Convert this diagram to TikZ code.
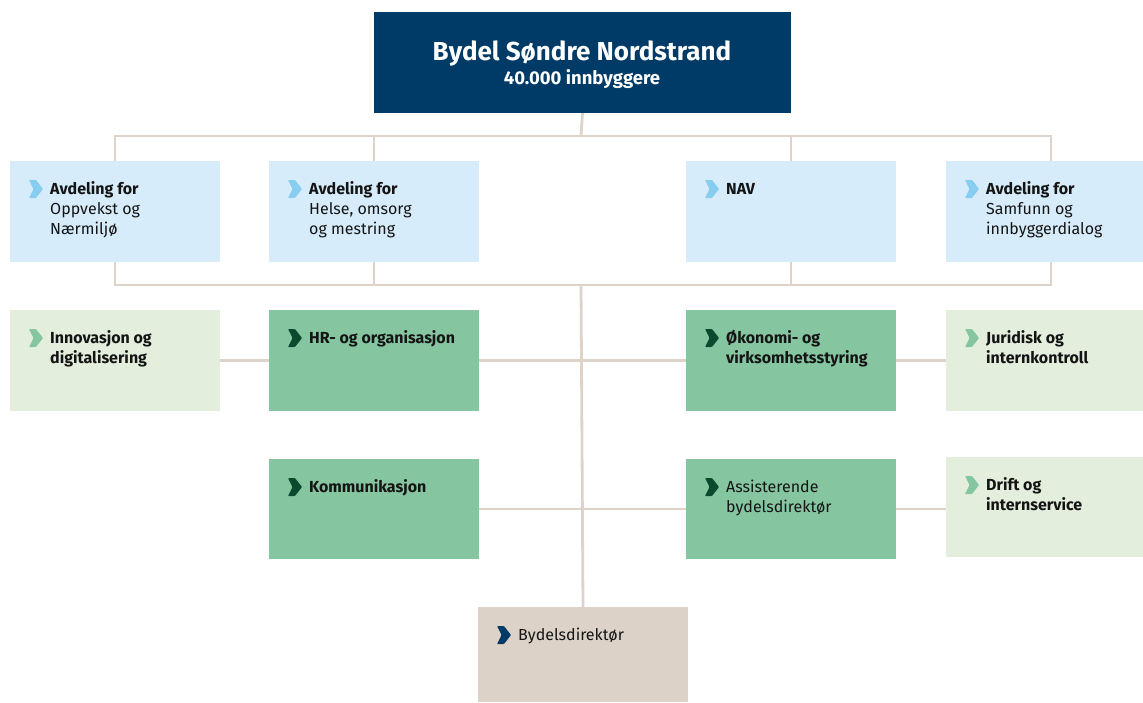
\documentclass[tikz,border=0pt]{standalone}
\usepackage{fontspec}
\setmainfont{Fira Sans}
\usetikzlibrary{backgrounds}
\definecolor{navy}{HTML}{003A66}
\definecolor{lblue}{HTML}{D6ECFA}
\definecolor{ablue}{HTML}{86CDF0}
\definecolor{lgreen}{HTML}{E4EEDD}
\definecolor{mgreen}{HTML}{85C6A1}
\definecolor{dgreen}{HTML}{0B4A2E}
\definecolor{beige}{HTML}{DCD2C7}
\definecolor{linec}{HTML}{DDD3C9}
\definecolor{txt}{HTML}{141414}
\begin{document}
\begin{tikzpicture}[x=1pt,y=-1pt,
  unit/.style={anchor=north west, inner sep=0pt, outer sep=0pt, minimum width=210pt, minimum height=101pt, draw=none},
  deptbox/.style={unit, fill=lblue},
  staffbox/.style={unit, fill=lgreen},
  mainbox/.style={unit, fill=mgreen},
  dirbox/.style={unit, fill=beige, minimum height=95pt},
  topbox/.style={unit, fill=navy, minimum width=417pt},
  lbl/.style={anchor=base west, inner sep=0pt, text=txt, font=\fontsize{16}{20}\selectfont},
  conn/.style={draw=linec, line width=2.8pt},
  chev/.pic={\fill[#1, rounded corners=0.8pt] (0,0) -- (7,0) -- (14,9) -- (7,18) -- (0,18) -- (4.5,9) -- cycle;}
]
\useasboundingbox (0,0) rectangle (1143,702);

% top
\node[topbox] (top) at (374,12) {};
\node[anchor=base, inner sep=0pt, text=white, font=\bfseries\fontsize{26}{30}\selectfont] (title) at (582,60) {Bydel Søndre Nordstrand};
\node[anchor=base, inner sep=0pt, text=white, font=\bfseries\fontsize{18.5}{22}\selectfont] (subtitle) at (582,84) {40.000 innbyggere};

% row 1
\node[deptbox] (b1) at (10,161) {};
\node[deptbox] (b2) at (269,161) {};
\node[deptbox] (b3) at (686,161) {};
\node[deptbox] (b4) at (946,161) {};
% row 2
\node[staffbox] (inn) at (10,310) {};
\node[mainbox] (hr) at (269,310) {};
\node[mainbox] (oko) at (686,310) {};
\node[staffbox] (jur) at (946,310) {};
% row 3
\node[mainbox, minimum height=100pt] (kom) at (269,459) {};
\node[mainbox, minimum height=100pt] (ass) at (686,459) {};
\node[staffbox, minimum height=100pt] (drift) at (946,457) {};
% director
\node[dirbox] (bd) at (478,607) {};

% connectors
\coordinate (bus1) at (581,136);
\coordinate (bus2) at (581,285);
\begin{scope}[on background layer]
\draw[conn] (top.south) -- (bus1);
\draw[conn] (b1.north) |- (bus1) -| (b4.north);
\draw[conn] (b2.north) -- (b2.north |- bus1);
\draw[conn] (b3.north) -- (b3.north |- bus1);
\draw[conn] (b1.south) |- (bus2) -| (b4.south);
\draw[conn] (b2.south) -- (b2.south |- bus2);
\draw[conn] (b3.south) -- (b3.south |- bus2);
\draw[conn] (bus2) -- (bd.north);
\draw[conn] (inn.east) -- (hr.west);
\draw[conn] (hr.east) -- (oko.west);
\draw[conn] (oko.east) -- (jur.west);
\draw[conn] (kom.east) -- (ass.west);
\draw[conn] (ass.east) -- (drift.west |- ass.east);
\end{scope}

% chevrons
\pic at ([shift={(19,19)}]b1.north west) {chev=ablue};
\pic at ([shift={(19,19)}]b2.north west) {chev=ablue};
\pic at ([shift={(19,19)}]b3.north west) {chev=ablue};
\pic at ([shift={(19,19)}]b4.north west) {chev=ablue};
\pic at ([shift={(19,19)}]inn.north west) {chev=mgreen};
\pic at ([shift={(19,19)}]hr.north west) {chev=dgreen};
\pic at ([shift={(19,19)}]oko.north west) {chev=dgreen};
\pic at ([shift={(19,19)}]jur.north west) {chev=mgreen};
\pic at ([shift={(19,19)}]kom.north west) {chev=dgreen};
\pic at ([shift={(19,19)}]ass.north west) {chev=dgreen};
\pic at ([shift={(19,19)}]drift.north west) {chev=mgreen};
\pic at ([shift={(19,19)}]bd.north west) {chev=navy};

% labels
\node[lbl] (t1) at ([shift={(40,33)}]b1.north west) {\parbox[t]{165pt}{\raggedright\textbf{Avdeling for}\\Oppvekst og\\Nærmiljø}};
\node[lbl] (t2) at ([shift={(40,33)}]b2.north west) {\parbox[t]{165pt}{\raggedright\textbf{Avdeling for}\\Helse, omsorg\\og mestring}};
\node[lbl] (t3) at ([shift={(40,33)}]b3.north west) {\textbf{NAV}};
\node[lbl] (t4) at ([shift={(40,33)}]b4.north west) {\parbox[t]{155pt}{\raggedright\textbf{Avdeling for}\\Samfunn og\\innbyggerdialog}};
\node[lbl] (t5) at ([shift={(40,33)}]inn.north west) {\parbox[t]{165pt}{\raggedright\bfseries Innovasjon og\\digitalisering}};
\node[lbl] (t6) at ([shift={(40,33)}]hr.north west) {\textbf{HR- og organisasjon}};
\node[lbl] (t7) at ([shift={(40,33)}]oko.north west) {\parbox[t]{165pt}{\raggedright\bfseries Økonomi- og\\virksomhetsstyring}};
\node[lbl] (t8) at ([shift={(40,33)}]jur.north west) {\parbox[t]{155pt}{\raggedright\bfseries Juridisk og\\internkontroll}};
\node[lbl] (t9) at ([shift={(40,33)}]kom.north west) {\textbf{Kommunikasjon}};
\node[lbl] (t10) at ([shift={(40,33)}]ass.north west) {\parbox[t]{165pt}{\raggedright Assisterende\\bydelsdirektør}};
\node[lbl] (t11) at ([shift={(40,33)}]drift.north west) {\parbox[t]{155pt}{\raggedright\bfseries Drift og\\internservice}};
\node[lbl] (t12) at ([shift={(40,33)}]bd.north west) {Bydelsdirektør};
\end{tikzpicture}
\end{document}
